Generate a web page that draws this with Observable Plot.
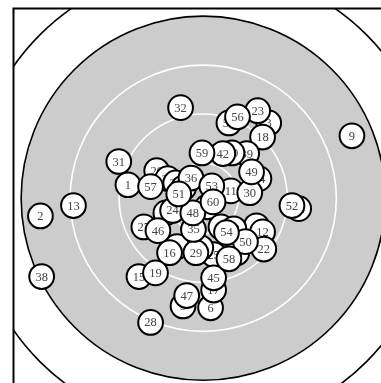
<!DOCTYPE html>
<html><head><meta charset="utf-8">
<script src="https://cdn.jsdelivr.net/npm/d3@7"></script>
<script src="https://cdn.jsdelivr.net/npm/@observablehq/plot@0.6"></script>
<style>html,body{margin:0;padding:0;overflow:hidden;background:#fff} svg{will-change:transform}</style>
</head><body><div id="chart"></div>
<script>
// ISSF 10 m air pistol target, values in mm from the centre
const shotNo = [1,2,3,4,5,6,7,8,9,10,11,12,13,14,15,16,17,18,19,20,21,22,23,24,25,26,27,28,29,30,31,32,33,34,35,36,37,38,39,40,41,42,43,44,45,46,47,48,49,50,51,52,53,54,55,56,57,58,59,60];
const shotX = [-12.3,-26.6,10.7,8.7,-3.3,1.2,0.7,-4.3,24.3,-6.1,4.5,9.7,-21.2,9.1,-10.5,-5.5,1.7,9.7,-7.8,-7.6,-5.8,9.9,8.9,-5.0,1.7,-0.4,-9.7,-8.6,-1.2,7.6,-13.8,-3.7,-4.5,-3.2,-1.6,-2.0,5.5,-26.4,7.1,4.7,2.9,3.2,5.0,15.6,1.7,-7.4,-2.7,-1.7,7.9,6.9,-4.0,14.5,1.4,3.8,4.2,5.6,-8.6,4.2,-0.2,1.6];
const shotY = [2.2,-2.9,12.3,-4.5,-17.6,-17.9,-1.4,-7.9,10.2,-2.4,1.2,-5.5,-1.2,3.2,-12.8,-8.9,-15.0,10.0,-12.2,4.5,3.2,-8.3,14.3,-2.0,-9.2,-8.1,-4.7,-20.3,-8.9,0.9,6.0,14.8,2.5,1.7,-5.1,3.3,-8.9,-12.8,7.3,7.4,-4.7,7.3,-5.0,-1.7,-13.0,-5.3,-15.9,-2.4,4.3,-7.1,0.7,-1.2,2.0,-5.6,12.3,13.3,1.9,-9.9,7.4,-0.6];
const ringRadius = [37.75, 29.75, 21.75, 13.75, 5.75];
const pelletRadius = 2.02;

const W = 381, H = 383, k = 6.12, half = 31;
const span = 2 * half * k;
const rings = ringRadius.map(r => ({cx: 0, cy: 0, r}));
const shots = shotNo.map((n, i) => ({n, x: shotX[i], y: shotY[i], r: pelletRadius}));

const shotMarks = shots.flatMap(s => [
  Plot.dot([s], {x: "x", y: "y", r: "r", fill: "white", stroke: "black", strokeWidth: 2}),
  Plot.text([s], {x: "x", y: "y", text: "n", fill: "#444", fontSize: 12.5, fontFamily: "Liberation Serif"})
]);

const chart = Plot.plot({
  width: W, height: H,
  marginLeft: 13, marginTop: 8,
  marginRight: W - 13 - span, marginBottom: H - 8 - span,
  x: {domain: [-half, half], axis: null},
  y: {domain: [-half, half], axis: null},
  r: {type: "linear", domain: [0, half], range: [0, half * k]},
  marks: [
    Plot.dot(rings.slice(0, 1), {x: "cx", y: "cy", r: "r", fill: "none", stroke: "black", strokeWidth: 1.6, clip: true}),
    Plot.dot(rings.slice(1, 2), {x: "cx", y: "cy", r: "r", fill: "#cccccc", stroke: "black", strokeWidth: 1.6, clip: true}),
    Plot.dot(rings.slice(2), {x: "cx", y: "cy", r: "r", fill: "none", stroke: "white", strokeWidth: 1.6, clip: true}),
    ...shotMarks,
    Plot.frame({stroke: "black", strokeWidth: 2})
  ]
});
document.getElementById("chart").appendChild(chart);
</script>
</body></html>
